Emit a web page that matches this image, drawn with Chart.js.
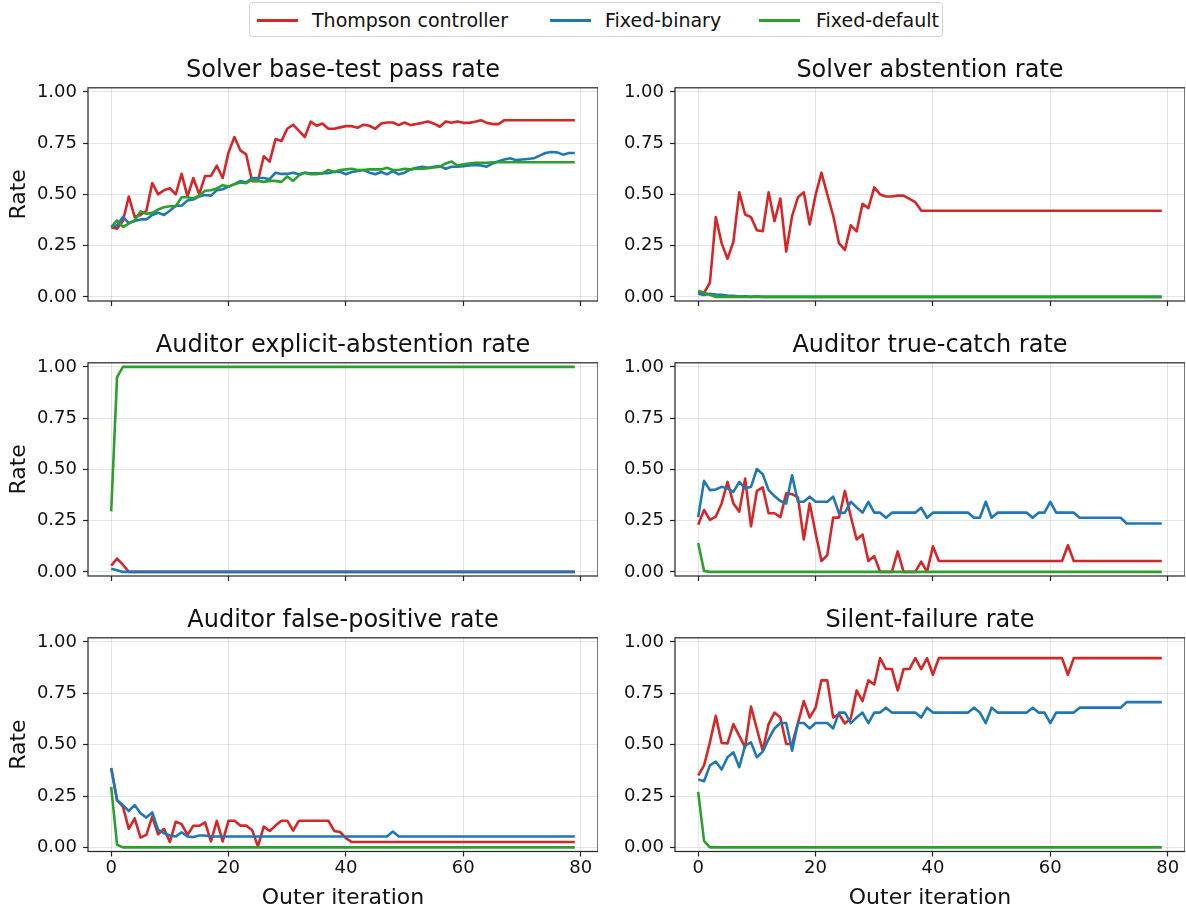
<!DOCTYPE html>
<html>
<head>
<meta charset="utf-8">
<title>Controller comparison</title>
<script src="https://cdn.jsdelivr.net/npm/chart.js@4.4.1/dist/chart.umd.min.js"></script>
<style>
  body { margin: 0; background: #fff; width: 1186px; height: 909px; position: relative; overflow: hidden; font-family: "DejaVu Sans", sans-serif; }
  #legend { position: absolute; left: 249px; top: 2px; width: 694px; height: 35px; box-sizing: border-box;
            border: 1px solid #d3d3d3; border-radius: 4px; background: #fff; }
  #legend .swatch { position: absolute; top: 16px; width: 41px; height: 3px; }
  #legend .label { position: absolute; top: 5px; font-size: 19px; line-height: 24px; color: #111; white-space: nowrap; }
</style>
</head>
<body>
<div id="legend"></div>
<script>
// x values and tick labels
const iterations = Array.from({ length: 80 }, (_, i) => i);
const xTicks = [0, 20, 40, 60, 80];
const yTicks = [0, 0.25, 0.5, 0.75, 1];

const seriesNames = ['Thompson controller', 'Fixed-binary', 'Fixed-default'];
const seriesColors = ['#d62728', '#1f77b4', '#2ca02c'];

// Solver base-test pass rate
const passThompson = [
  0.34, 0.333, 0.37, 0.49, 0.39, 0.40, 0.42, 0.555, 0.50, 0.52,
  0.53, 0.50, 0.60, 0.49, 0.58, 0.50, 0.59, 0.59, 0.64, 0.58,
  0.705, 0.78, 0.715, 0.695, 0.565, 0.565, 0.686, 0.66, 0.77, 0.76,
  0.82, 0.84, 0.81, 0.78, 0.855, 0.835, 0.846, 0.82, 0.82, 0.827,
  0.833, 0.833, 0.825, 0.84, 0.835, 0.82, 0.846, 0.851, 0.851, 0.838,
  0.851, 0.838, 0.843, 0.849, 0.856, 0.845, 0.83, 0.856, 0.849, 0.856,
  0.849, 0.849, 0.854, 0.862, 0.849, 0.843, 0.843, 0.862, 0.862, 0.862,
  0.862, 0.862, 0.862, 0.862, 0.862, 0.862, 0.862, 0.862, 0.862, 0.862
];
const passBinary = [
  0.341, 0.35, 0.39, 0.36, 0.37, 0.378, 0.378, 0.40, 0.41, 0.40,
  0.42, 0.445, 0.445, 0.47, 0.475, 0.49, 0.497, 0.494, 0.52, 0.525,
  0.538, 0.55, 0.565, 0.558, 0.58, 0.58, 0.58, 0.574, 0.606, 0.60,
  0.60, 0.606, 0.598, 0.606, 0.603, 0.603, 0.603, 0.603, 0.61, 0.61,
  0.598, 0.609, 0.614, 0.619, 0.606, 0.598, 0.609, 0.598, 0.614, 0.598,
  0.606, 0.622, 0.63, 0.635, 0.63, 0.635, 0.638, 0.625, 0.635, 0.635,
  0.638, 0.641, 0.644, 0.641, 0.635, 0.651, 0.662, 0.67, 0.676, 0.667,
  0.67, 0.673, 0.676, 0.689, 0.702, 0.707, 0.705, 0.694, 0.702, 0.702
];
const passDefault = [
  0.341, 0.373, 0.341, 0.357, 0.373, 0.417, 0.405, 0.41, 0.426, 0.437,
  0.442, 0.442, 0.486, 0.486, 0.48, 0.494, 0.518, 0.52, 0.529, 0.545,
  0.538, 0.55, 0.558, 0.555, 0.571, 0.566, 0.561, 0.566, 0.566, 0.561,
  0.587, 0.566, 0.593, 0.606, 0.598, 0.598, 0.603, 0.619, 0.609, 0.619,
  0.622, 0.625, 0.619, 0.619, 0.622, 0.622, 0.622, 0.63, 0.619, 0.619,
  0.625, 0.622, 0.625, 0.625, 0.628, 0.631, 0.635, 0.651, 0.66, 0.641,
  0.647, 0.651, 0.654, 0.654, 0.654, 0.657, 0.657, 0.657, 0.657, 0.657,
  0.657, 0.657, 0.657, 0.657, 0.657, 0.657, 0.657, 0.657, 0.657, 0.657
];

// Solver abstention rate
const abstainThompson = [
  0.025, 0.02, 0.069, 0.389, 0.261, 0.186, 0.269, 0.51, 0.402, 0.389,
  0.325, 0.32, 0.51, 0.369, 0.48, 0.221, 0.394, 0.486, 0.51, 0.353,
  0.497, 0.606, 0.50, 0.397, 0.261, 0.229, 0.349, 0.32, 0.454, 0.433,
  0.534, 0.50, 0.49, 0.49, 0.494, 0.494, 0.478, 0.462, 0.421, 0.42,
  0.42, 0.42, 0.42, 0.42, 0.42, 0.42, 0.42, 0.42, 0.42, 0.42,
  0.42, 0.42, 0.42, 0.42, 0.42, 0.42, 0.42, 0.42, 0.42, 0.42,
  0.42, 0.42, 0.42, 0.42, 0.42, 0.42, 0.42, 0.42, 0.42, 0.42,
  0.42, 0.42, 0.42, 0.42, 0.42, 0.42, 0.42, 0.42, 0.42, 0.42
];
const abstainBinary = [
  0.015, 0.01, 0.015, 0.012, 0.01, 0.007, 0.005, 0.002, 0.003, 0,
  0.003, 0, 0, 0, 0, 0, 0, 0, 0, 0,
  0, 0, 0, 0, 0, 0, 0, 0, 0, 0,
  0, 0, 0, 0, 0, 0, 0, 0, 0, 0,
  0, 0, 0, 0, 0, 0, 0, 0, 0, 0,
  0, 0, 0, 0, 0, 0, 0, 0, 0, 0,
  0, 0, 0, 0, 0, 0, 0, 0, 0, 0,
  0, 0, 0, 0, 0, 0, 0, 0, 0, 0
];
const abstainDefault = [
  0.03, 0.02, 0.01, 0, 0, 0, 0, 0, 0, 0,
  0, 0, 0, 0, 0, 0, 0, 0, 0, 0,
  0, 0, 0, 0, 0, 0, 0, 0, 0, 0,
  0, 0, 0, 0, 0, 0, 0, 0, 0, 0,
  0, 0, 0, 0, 0, 0, 0, 0, 0, 0,
  0, 0, 0, 0, 0, 0, 0, 0, 0, 0,
  0, 0, 0, 0, 0, 0, 0, 0, 0, 0,
  0, 0, 0, 0, 0, 0, 0, 0, 0, 0
];

// Auditor explicit-abstention rate
const explicitThompson = [
  0.03, 0.065, 0.035, 0, 0, 0, 0, 0, 0, 0,
  0, 0, 0, 0, 0, 0, 0, 0, 0, 0,
  0, 0, 0, 0, 0, 0, 0, 0, 0, 0,
  0, 0, 0, 0, 0, 0, 0, 0, 0, 0,
  0, 0, 0, 0, 0, 0, 0, 0, 0, 0,
  0, 0, 0, 0, 0, 0, 0, 0, 0, 0,
  0, 0, 0, 0, 0, 0, 0, 0, 0, 0,
  0, 0, 0, 0, 0, 0, 0, 0, 0, 0
];
const explicitBinary = [
  0.015, 0.008, 0, 0, 0, 0, 0, 0, 0, 0,
  0, 0, 0, 0, 0, 0, 0, 0, 0, 0,
  0, 0, 0, 0, 0, 0, 0, 0, 0, 0,
  0, 0, 0, 0, 0, 0, 0, 0, 0, 0,
  0, 0, 0, 0, 0, 0, 0, 0, 0, 0,
  0, 0, 0, 0, 0, 0, 0, 0, 0, 0,
  0, 0, 0, 0, 0, 0, 0, 0, 0, 0,
  0, 0, 0, 0, 0, 0, 0, 0, 0, 0
];
const explicitDefault = [
  0.295, 0.95, 1, 1, 1, 1, 1, 1, 1, 1,
  1, 1, 1, 1, 1, 1, 1, 1, 1, 1,
  1, 1, 1, 1, 1, 1, 1, 1, 1, 1,
  1, 1, 1, 1, 1, 1, 1, 1, 1, 1,
  1, 1, 1, 1, 1, 1, 1, 1, 1, 1,
  1, 1, 1, 1, 1, 1, 1, 1, 1, 1,
  1, 1, 1, 1, 1, 1, 1, 1, 1, 1,
  1, 1, 1, 1, 1, 1, 1, 1, 1, 1
];

// Auditor true-catch rate
const catchThompson = [
  0.23, 0.302, 0.254, 0.27, 0.334, 0.439, 0.334, 0.294, 0.455, 0.222,
  0.395, 0.412, 0.286, 0.286, 0.267, 0.383, 0.379, 0.363, 0.158, 0.334,
  0.19, 0.053, 0.082, 0.265, 0.265, 0.395, 0.27, 0.158, 0.182, 0.053,
  0.077, 0, 0, 0, 0.1, 0, 0, 0, 0.05, 0,
  0.125, 0.053, 0.053, 0.053, 0.053, 0.053, 0.053, 0.053, 0.053, 0.053,
  0.053, 0.053, 0.053, 0.053, 0.053, 0.053, 0.053, 0.053, 0.053, 0.053,
  0.053, 0.053, 0.053, 0.13, 0.053, 0.053, 0.053, 0.053, 0.053, 0.053,
  0.053, 0.053, 0.053, 0.053, 0.053, 0.053, 0.053, 0.053, 0.053, 0.053
];
const catchBinary = [
  0.267, 0.444, 0.399, 0.402, 0.415, 0.407, 0.39, 0.439, 0.407, 0.415,
  0.502, 0.476, 0.399, 0.37, 0.346, 0.334, 0.471, 0.342, 0.342, 0.367,
  0.342, 0.342, 0.342, 0.367, 0.286, 0.289, 0.342, 0.315, 0.289, 0.342,
  0.289, 0.289, 0.264, 0.289, 0.289, 0.289, 0.289, 0.289, 0.313, 0.264,
  0.289, 0.289, 0.289, 0.289, 0.289, 0.289, 0.289, 0.264, 0.264, 0.342,
  0.264, 0.289, 0.289, 0.289, 0.289, 0.289, 0.289, 0.264, 0.289, 0.289,
  0.342, 0.289, 0.289, 0.289, 0.289, 0.264, 0.264, 0.264, 0.264, 0.264,
  0.264, 0.264, 0.264, 0.236, 0.236, 0.236, 0.236, 0.236, 0.236, 0.236
];
const catchDefault = [
  0.141, 0.005, 0, 0, 0, 0, 0, 0, 0, 0,
  0, 0, 0, 0, 0, 0, 0, 0, 0, 0,
  0, 0, 0, 0, 0, 0, 0, 0, 0, 0,
  0, 0, 0, 0, 0, 0, 0, 0, 0, 0,
  0, 0, 0, 0, 0, 0, 0, 0, 0, 0,
  0, 0, 0, 0, 0, 0, 0, 0, 0, 0,
  0, 0, 0, 0, 0, 0, 0, 0, 0, 0,
  0, 0, 0, 0, 0, 0, 0, 0, 0, 0
];

// Auditor false-positive rate
const falsePosThompson = [
  0.386, 0.23, 0.198, 0.09, 0.141, 0.048, 0.061, 0.15, 0.064, 0.09,
  0.026, 0.125, 0.113, 0.061, 0.105, 0.105, 0.122, 0.029, 0.129, 0.029,
  0.13, 0.13, 0.106, 0.106, 0.085, 0.005, 0.101, 0.08, 0.106, 0.13,
  0.13, 0.082, 0.13, 0.13, 0.13, 0.13, 0.13, 0.13, 0.08, 0.075,
  0.045, 0.026, 0.026, 0.026, 0.026, 0.026, 0.026, 0.026, 0.026, 0.026,
  0.026, 0.026, 0.026, 0.026, 0.026, 0.026, 0.026, 0.026, 0.026, 0.026,
  0.026, 0.026, 0.026, 0.026, 0.026, 0.026, 0.026, 0.026, 0.026, 0.026,
  0.026, 0.026, 0.026, 0.026, 0.026, 0.026, 0.026, 0.026, 0.026, 0.026
];
const falsePosBinary = [
  0.386, 0.23, 0.206, 0.177, 0.206, 0.166, 0.145, 0.17, 0.085, 0.069,
  0.058, 0.053, 0.074, 0.053, 0.05, 0.058, 0.058, 0.053, 0.053, 0.053,
  0.053, 0.053, 0.053, 0.053, 0.053, 0.053, 0.053, 0.053, 0.053, 0.053,
  0.053, 0.053, 0.053, 0.053, 0.053, 0.053, 0.053, 0.053, 0.053, 0.053,
  0.053, 0.053, 0.053, 0.053, 0.053, 0.053, 0.053, 0.053, 0.077, 0.053,
  0.053, 0.053, 0.053, 0.053, 0.053, 0.053, 0.053, 0.053, 0.053, 0.053,
  0.053, 0.053, 0.053, 0.053, 0.053, 0.053, 0.053, 0.053, 0.053, 0.053,
  0.053, 0.053, 0.053, 0.053, 0.053, 0.053, 0.053, 0.053, 0.053, 0.053
];
const falsePosDefault = [
  0.294, 0.013, 0, 0, 0, 0, 0, 0, 0, 0,
  0, 0, 0, 0, 0, 0, 0, 0, 0, 0,
  0, 0, 0, 0, 0, 0, 0, 0, 0, 0,
  0, 0, 0, 0, 0, 0, 0, 0, 0, 0,
  0, 0, 0, 0, 0, 0, 0, 0, 0, 0,
  0, 0, 0, 0, 0, 0, 0, 0, 0, 0,
  0, 0, 0, 0, 0, 0, 0, 0, 0, 0,
  0, 0, 0, 0, 0, 0, 0, 0, 0, 0
];

// Silent-failure rate
const silentThompson = [
  0.35, 0.399, 0.511, 0.64, 0.508, 0.506, 0.6, 0.543, 0.487, 0.685,
  0.576, 0.471, 0.6, 0.656, 0.632, 0.503, 0.503, 0.605, 0.712, 0.632,
  0.68, 0.813, 0.813, 0.632, 0.648, 0.603, 0.627, 0.764, 0.712, 0.813,
  0.793, 0.921, 0.868, 0.868, 0.764, 0.868, 0.868, 0.921, 0.868, 0.921,
  0.84, 0.921, 0.921, 0.921, 0.921, 0.921, 0.921, 0.921, 0.921, 0.921,
  0.921, 0.921, 0.921, 0.921, 0.921, 0.921, 0.921, 0.921, 0.921, 0.921,
  0.921, 0.921, 0.921, 0.84, 0.921, 0.921, 0.921, 0.921, 0.921, 0.921,
  0.921, 0.921, 0.921, 0.921, 0.921, 0.921, 0.921, 0.921, 0.921, 0.921
];
const silentBinary = [
  0.331, 0.322, 0.399, 0.418, 0.379, 0.439, 0.463, 0.39, 0.495, 0.511,
  0.439, 0.466, 0.527, 0.579, 0.605, 0.605, 0.471, 0.605, 0.605, 0.579,
  0.605, 0.605, 0.605, 0.579, 0.656, 0.656, 0.605, 0.632, 0.656, 0.605,
  0.656, 0.656, 0.68, 0.656, 0.656, 0.656, 0.656, 0.656, 0.632, 0.68,
  0.656, 0.656, 0.656, 0.656, 0.656, 0.656, 0.656, 0.68, 0.656, 0.605,
  0.68, 0.656, 0.656, 0.656, 0.656, 0.656, 0.656, 0.68, 0.656, 0.656,
  0.605, 0.656, 0.656, 0.656, 0.656, 0.68, 0.68, 0.68, 0.68, 0.68,
  0.68, 0.68, 0.68, 0.707, 0.707, 0.707, 0.707, 0.707, 0.707, 0.707
];
const silentDefault = [
  0.27, 0.032, 0, 0, 0, 0, 0, 0, 0, 0,
  0, 0, 0, 0, 0, 0, 0, 0, 0, 0,
  0, 0, 0, 0, 0, 0, 0, 0, 0, 0,
  0, 0, 0, 0, 0, 0, 0, 0, 0, 0,
  0, 0, 0, 0, 0, 0, 0, 0, 0, 0,
  0, 0, 0, 0, 0, 0, 0, 0, 0, 0,
  0, 0, 0, 0, 0, 0, 0, 0, 0, 0,
  0, 0, 0, 0, 0, 0, 0, 0, 0, 0
];

const panels = [
  { title: 'Solver base-test pass rate', series: [passThompson, passBinary, passDefault], row: 0, col: 0 },
  { title: 'Solver abstention rate', series: [abstainThompson, abstainBinary, abstainDefault], row: 0, col: 1 },
  { title: 'Auditor explicit-abstention rate', series: [explicitThompson, explicitBinary, explicitDefault], row: 1, col: 0 },
  { title: 'Auditor true-catch rate', series: [catchThompson, catchBinary, catchDefault], row: 1, col: 1 },
  { title: 'Auditor false-positive rate', series: [falsePosThompson, falsePosBinary, falsePosDefault], row: 2, col: 0 },
  { title: 'Silent-failure rate', series: [silentThompson, silentBinary, silentDefault], row: 2, col: 1 }
];

Chart.defaults.font.family = "'DejaVu Sans', sans-serif";
Chart.defaults.color = '#111';

// box around each axes, drawn on top of the lines like matplotlib spines
const framePlugin = {
  id: 'frame',
  afterDatasetsDraw(chart) {
    const { ctx, chartArea } = chart;
    ctx.save();
    ctx.strokeStyle = '#222';
    ctx.lineWidth = 1.2;
    ctx.strokeRect(chartArea.left, chartArea.top, chartArea.right - chartArea.left, chartArea.bottom - chartArea.top);
    ctx.restore();
  }
};

// legend (figure level, above the grid of panels)
const legendBox = document.getElementById('legend');
const legendSwatchX = [7, 300, 509];
const legendTextX = [62, 355, 566];
seriesNames.forEach((name, i) => {
  const sw = document.createElement('div');
  sw.className = 'swatch';
  sw.style.left = legendSwatchX[i] + 'px';
  sw.style.background = seriesColors[i];
  legendBox.appendChild(sw);
  const lb = document.createElement('div');
  lb.className = 'label';
  lb.style.left = legendTextX[i] + 'px';
  lb.textContent = name;
  legendBox.appendChild(lb);
});

panels.forEach((p) => {
  const isLeft = p.col === 0;
  const isBottom = p.row === 2;
  const left = isLeft ? 0 : 600;
  const width = isLeft ? 598 : 585;
  const top = 43 + 275 * p.row;
  const height = isBottom ? 316 : 275;
  const yAxisWidth = isLeft ? 88 : 75;
  const xAxisHeight = isBottom ? 57.5 : 17;

  const canvas = document.createElement('canvas');
  canvas.width = width;
  canvas.height = height;
  canvas.style.cssText = `position:absolute;left:${left}px;top:${top}px;width:${width}px;height:${height}px;`;
  document.body.appendChild(canvas);

  const datasets = p.series.map((vals, i) => ({
    label: seriesNames[i],
    data: vals.map((v, j) => ({ x: iterations[j], y: v })),
    borderColor: seriesColors[i],
    backgroundColor: seriesColors[i],
    borderWidth: 2.6,
    pointRadius: 0,
    pointHoverRadius: 0,
    tension: 0,
    borderJoinStyle: 'round',
    order: 2 - i
  }));

  new Chart(canvas, {
    type: 'line',
    data: { datasets },
    plugins: [framePlugin],
    options: {
      responsive: false,
      animation: false,
      devicePixelRatio: 1,
      layout: { padding: 0 },
      plugins: {
        legend: { display: false },
        tooltip: { enabled: false },
        title: {
          display: true,
          text: p.title,
          fullSize: false,
          color: '#111',
          font: { size: 24, weight: 'normal' },
          padding: { top: 13, bottom: 3 }
        }
      },
      scales: {
        x: {
          type: 'linear',
          min: -3.95,
          max: 82.95,
          afterBuildTicks: (s) => { s.ticks = xTicks.map(v => ({ value: v })); },
          afterFit: (s) => { s.height = xAxisHeight; },
          border: { display: false },
          grid: { color: 'rgba(0,0,0,0.1)', lineWidth: 1, tickColor: '#222', tickLength: 5, tickWidth: 1.2 },
          ticks: {
            autoSkip: false,
            maxRotation: 0,
            padding: 1,
            font: { size: 18 },
            color: '#111',
            callback: (v) => (isBottom ? String(v) : '')
          },
          title: {
            display: isBottom,
            text: 'Outer iteration',
            color: '#111',
            font: { size: 22, lineHeight: 1 },
            padding: { top: 0, bottom: 0 }
          }
        },
        y: {
          type: 'linear',
          min: -0.02,
          max: 1.02,
          afterBuildTicks: (s) => { s.ticks = yTicks.map(v => ({ value: v })); },
          afterFit: (s) => { s.width = yAxisWidth; },
          border: { display: false },
          grid: { color: 'rgba(0,0,0,0.1)', lineWidth: 1, tickColor: '#222', tickLength: 5, tickWidth: 1.2 },
          ticks: {
            autoSkip: false,
            padding: 6,
            font: { size: 18 },
            color: '#111',
            callback: (v) => Number(v).toFixed(2)
          },
          title: {
            display: isLeft,
            text: 'Rate',
            color: '#111',
            font: { size: 22, lineHeight: 1 },
            padding: { top: 8, bottom: 0 }
          }
        }
      }
    }
  });
});
</script>
</body>
</html>
